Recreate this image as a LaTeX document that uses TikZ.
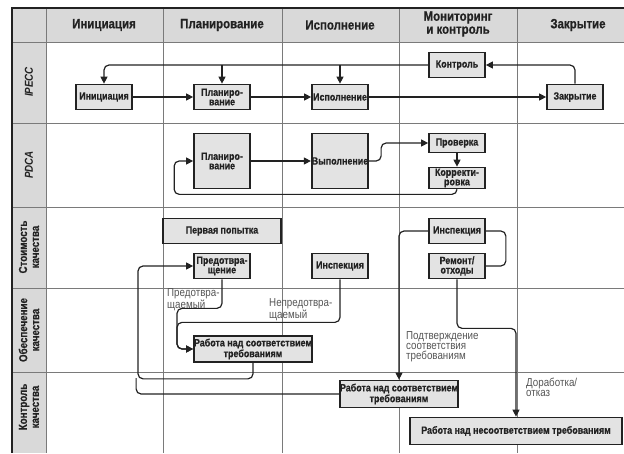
\documentclass[tikz,border=0pt]{standalone}
\usepackage{fontspec}
\setmainfont{Liberation Sans}[FakeStretch=0.85,BoldFeatures={FakeBold=0.6}]
\usetikzlibrary{arrows.meta}
\definecolor{hdrgray}{HTML}{D9D9D9}
\definecolor{boxgray}{HTML}{E3E3E3}
\definecolor{gridgray}{HTML}{7A7A7A}
\definecolor{lblgray}{HTML}{555555}
\definecolor{ink}{HTML}{222222}

\begin{document}
\begin{tikzpicture}[x=1pt,y=-1pt,
	blk/.style={draw=ink,line width=1.7pt,fill=boxgray,text=ink,minimum width=56pt,minimum height=25pt,inner sep=0pt,align=center,font=\fontsize{10.5}{9.5}\selectfont\bfseries},
	hdr/.style={text=ink,align=center,font=\fontsize{13.5}{13}\selectfont\bfseries},
	side/.style={text=ink,align=center,rotate=90,font=\fontsize{11.5}{12}\selectfont\bfseries},
	lbl/.style={anchor=north west,text=lblgray,align=left,inner sep=0pt,font=\fontsize{11.5}{10}\selectfont},
	arr/.style={draw=ink,line width=1.2pt,rounded corners=5pt,-{Triangle[length=7pt,width=7pt]}},
	ln/.style={draw=ink,line width=1.2pt,rounded corners=5pt}]
	\useasboundingbox (0,0) rectangle (624,453);
	\fill[hdrgray] (12,8) rectangle (624,42);
	\fill[hdrgray] (12,42) rectangle (46,453);
	\foreach \y in {42,123,207,288,372} \draw[gridgray,line width=0.8pt] (12,\y) -- (624,\y);
	\foreach \x in {46,163,282,399,517} \draw[gridgray,line width=0.8pt] (\x,8) -- (\x,453);
	\draw[ink,line width=1.2pt] (624,8) -- (12,8) -- (12,453);

	\node[hdr] (h1) at (104,25) {Инициация};
	\node[hdr] (h2) at (222,25) {Планирование};
	\node[hdr] (h3) at (340,25) {Исполнение};
	\node[hdr] (h4) at (458,24) {Мониторинг\\и контроль};
	\node[hdr] (h5) at (578,25) {Закрытие};
	\node[side] (s1) at (29,82) {\itshape IPECC};
	\node[side] (s2) at (29,165) {\itshape PDCA};
	\node[side] (s3) at (29,247) {Стоимость\\качества};
	\node[side] (s4) at (29,330) {Обеспечение\\качества};
	\node[side] (s5) at (29,407) {Контроль\\качества};

	\node[blk] (ini) at (104,97) {Инициация};
	\node[blk] (plan) at (222,97) {Планиро-\\вание};
	\node[blk] (isp) at (340,97) {Исполнение};
	\node[blk] (kontr) at (457,65) {Контроль};
	\node[blk] (zakr) at (575,97) {Закрытие};
	\draw[arr] (ini) -- (plan);
	\draw[arr] (plan) -- (isp);
	\draw[arr] (isp) -- (zakr);
	\draw[arr] (zakr.north) |- (kontr.east);
	\draw[arr] (kontr.west) -| (ini.north);
	\draw[arr] (plan.north |- kontr.west) -- (plan.north);
	\draw[arr] (isp.north |- kontr.west) -- (isp.north);

	\node[blk,minimum height=55pt] (plan2) at (222,161) {Планиро-\\вание};
	\node[blk,minimum height=55pt] (vyp) at (340,161) {Выполнение};
	\node[blk,minimum height=19pt] (prov) at (457,143) {Проверка};
	\node[blk,minimum height=21pt] (korr) at (457,178) {Корректи-\\ровка};
	\draw[arr] (plan2) -- (vyp);
	\draw[arr] (vyp.east) -- ++(12,0) |- (prov.west);
	\draw[arr] (prov) -- (korr);
	\draw[arr] (korr.south) -- ++(0,5) -| ([xshift=-19pt]plan2.west) -- (plan2.west);

	\node[blk,minimum width=118pt] (perv) at (222,231) {Первая попытка};
	\node[blk] (predotv) at (222,266) {Предотвра-\\щение};
	\node[blk] (insp1) at (340,266) {Инспекция};
	\node[blk] (insp2) at (457,231) {Инспекция};
	\node[blk] (rem) at (457,266) {Ремонт/\\отходы};
	\node[blk,minimum width=118pt,minimum height=26pt] (rab1) at (253,349) {Работа над соответствием\\требованиям};
	\node[blk,minimum width=117pt,minimum height=27pt] (rab2) at (399,394) {Работа над соответствием\\требованиям};
	\node[blk,minimum width=212pt,minimum height=27pt] (nesoot) at (516,431) {Работа над несоответствием требованиям};

	\draw[ln] (insp2.east) -- ++(20,0) |- (rem.east);
	\draw[arr] (insp2.west) -| (rab2.north);
	\draw[arr] (rem.south) -- ++(0,49) -| (nesoot.north);
	\draw[arr] (predotv.south) |- ++(-45,29) |- (rab1.west);
	\draw[arr] (insp1.south) |- ++(-163,43) |- (rab1.west);
	\draw[arr] (rab1.south) |- ++(-115,16) |- (predotv.west);
	\draw[ln] (rab2.west) -| ++(-203,-16);

	\node[lbl] (lpr) at (167,288) {Предотвра-\\щаемый};
	\node[lbl] (lnp) at (269,298) {Непредотвра-\\щаемый};
	\node[lbl] (lpod) at (406,331) {Подтверждение\\соответствия\\требованиям};
	\node[lbl] (ldor) at (526,378) {Доработка/\\отказ};
\end{tikzpicture}
\end{document}
